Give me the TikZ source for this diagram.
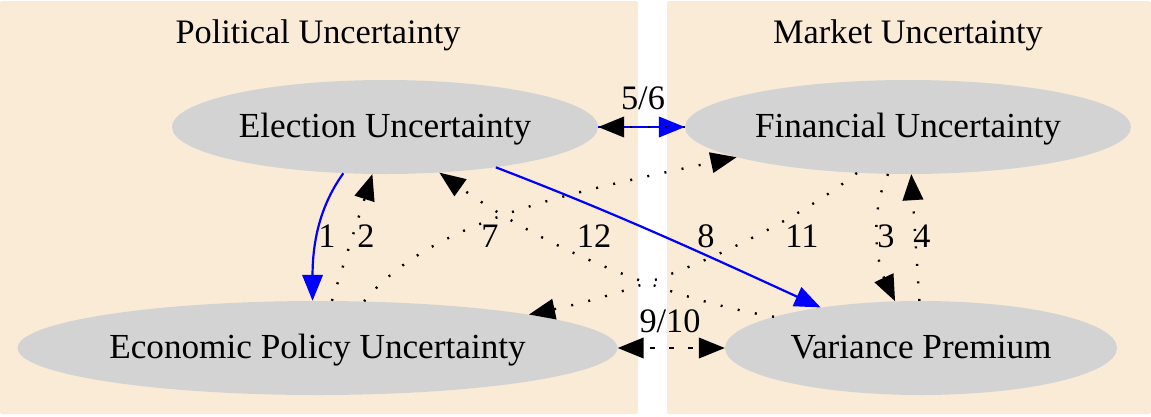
\documentclass[tikz,border=0pt]{standalone}
\usepackage{fontspec}
\setmainfont{Liberation Serif}
\usetikzlibrary{arrows.meta,shapes.geometric}
\definecolor{clusterbg}{HTML}{FAEBD7}
\definecolor{nodebg}{HTML}{D3D3D3}
\begin{document}
\begin{tikzpicture}[x=1pt,y=-1pt,
  every node/.style={font=\fontsize{34.3}{40}\selectfont},
  state/.style={ellipse, fill=nodebg, draw=none, inner sep=0pt, minimum height=94pt, text height=26pt, text depth=6pt, font=\fontsize{35.2}{40}\selectfont},
  lbl/.style={anchor=base, inner sep=0pt},
  tipa/.style={-{Triangle[length=26pt,width=20.5pt]}},
  solidblue/.style={draw=blue, line width=2.2pt, tipa},
  dotline/.style={draw=black, line width=2.4pt, dash pattern=on 2pt off 15.5pt, tipa},
  dashline/.style={draw=black, line width=2.4pt, dash pattern=on 5pt off 14pt, dash phase=12pt, {Triangle[length=26pt,width=20.5pt]}-{Triangle[length=26pt,width=20.5pt]}},
  cluster/.style={fill=clusterbg, rounded corners=2pt}
]
\useasboundingbox (0,0) rectangle (1151,416);
\fill[cluster] (0,1) rectangle (638,414);
\fill[cluster] (667,1) rectangle (1151,414);
\node[lbl] (tpol) at (318,43) {Political Uncertainty};
\node[lbl] (tmar) at (908,43) {Market Uncertainty};

\node[state, minimum width=426pt] (elec) at (385,127) {Election Uncertainty};
\node[state, minimum width=446pt] (fin) at (908,127) {Financial Uncertainty};
\node[state, minimum width=600pt] (epu) at (317.5,348) {Economic Policy Uncertainty};
\node[state, minimum width=392pt] (vp) at (921,348) {Variance Premium};

% 1
\draw[solidblue] (elec.-132.4) .. controls +(-23,32) and +(0,-60) .. (epu.96.8);
% 2
\draw[dotline] (epu.73.2) -- (elec.-105.8);
% 3
\draw[dotline] (fin.-113.5) .. controls +(-18,37) and +(-19,-40) .. (vp.119.5);
% 4
\draw[dotline] (vp.92.4) -- (fin.-86.3);
% 5/6
\draw[solidblue] (elec.east) -- (fin.west);
\draw[dotline] (fin.west) -- (elec.east);
% 7
\draw[dotline] (epu.45.3) .. controls +(67,-82) and +(-160,34) .. (fin.-170.2);
% 8
\draw[solidblue] (elec.-20.3) .. controls +(120,46) and +(-120,-55) .. (vp.158.2);
% 9/10
\draw[dashline] (epu.east) -- (vp.west);
% 11
\draw[dotline] (fin.-138.6) .. controls +(-67,53) and +(138,-29) .. (epu.9.4);
% 12
\draw[dotline] (vp.168.6) .. controls +(-82,-13) and +(123,88) .. (elec.-40.9);

\node[lbl] (l1) at (327,247) {1};
\node[lbl] (l2) at (366,247) {2};
\node[lbl] (l7) at (490,247) {7};
\node[lbl] (l12) at (594,247) {12};
\node[lbl] (l8) at (706,247) {8};
\node[lbl] (l11) at (802,247) {11};
\node[lbl] (l3) at (886,247) {3};
\node[lbl] (l4) at (922,247) {4};
\node[lbl] (l56) at (643,109) {5/6};
\node[lbl] (l910) at (670,332) {9/10};
\end{tikzpicture}
\end{document}
